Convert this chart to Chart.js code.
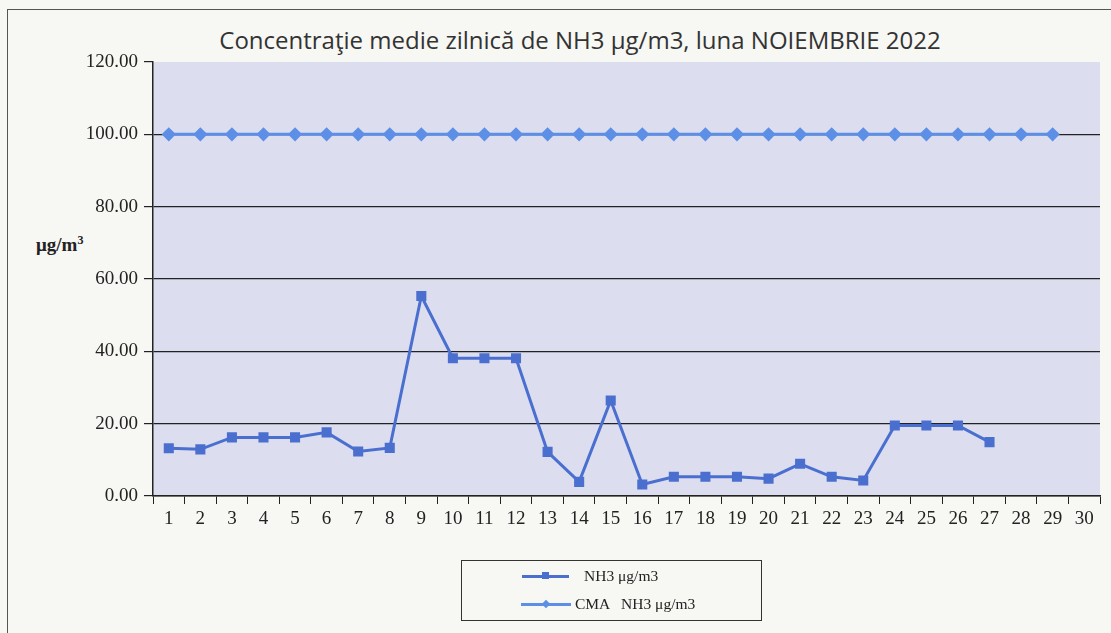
<!DOCTYPE html>
<html>
<head>
<meta charset="utf-8">
<script src="https://cdn.jsdelivr.net/npm/chart.js@4.4.0/dist/chart.umd.min.js"></script>
<style>
  body { margin: 0; background: #f7f7f4; width: 1111px; height: 633px; overflow: hidden; position: relative; }
  #frame { position: absolute; left: 7px; top: 9px; width: 1120px; height: 640px; border: 1.5px solid #555; box-sizing: border-box; }
  #title { position: absolute; left: 180px; width: 800px; top: 23px; text-align: center; font-family: "Open Sans", sans-serif; font-size: 24px; color: #333; }
  #ytitle { position: absolute; left: 36px; top: 233px; font-family: "Liberation Serif", serif; font-weight: bold; font-size: 19px; color: #222; }
  #legend { position: absolute; left: 461px; top: 560px; width: 301px; height: 61px; border: 1.5px solid #333; box-sizing: border-box; font-family: "Liberation Serif", serif; font-size: 15.5px; color: #222; }
  .row { position: absolute; left: 0; height: 20px; }
  .line { position: absolute; height: 2.5px; top: 9px; }
  .mk { position: absolute; }
  .txt { position: absolute; top: 0; white-space: pre; line-height: 20px; }
  canvas { position: absolute; left: 0; top: 0; }
</style>
</head>
<body>
<div id="frame"></div>
<div id="title">Concentraţie medie zilnică de NH3 μg/m3, luna NOIEMBRIE 2022</div>
<div id="ytitle">μg/m<sup style="font-size:12px">3</sup></div>
<canvas id="chart" width="1111" height="633"></canvas>
<div id="legend">
  <div class="row" style="top:5px">
    <div class="line" style="left:60px;width:47px;background:#4a6fcf"></div>
    <div class="mk" style="left:80px;top:6px;width:7px;height:7px;background:#4a6fcf"></div>
    <div class="txt" style="left:122px">NH3 μg/m3</div>
  </div>
  <div class="row" style="top:33px">
    <div class="line" style="left:59px;width:50px;background:#5d8fe6"></div>
    <div class="mk" style="left:81px;top:7px;width:6px;height:6px;background:#5d8fe6;transform:rotate(45deg)"></div>
    <div class="txt" style="left:113px">CMA   NH3 μg/m3</div>
  </div>
</div>
<script>
// Days of November
const days = ["1","2","3","4","5","6","7","8","9","10","11","12","13","14","15",
              "16","17","18","19","20","21","22","23","24","25","26","27","28","29","30"];

// NH3 daily mean concentration (µg/m3)
const nh3Values = [13.2, 12.9, 16.2, 16.2, 16.2, 17.6, 12.3, 13.3, 55.3, 38.1,
                   38.1, 38.1, 12.2, 3.9, 26.4, 3.2, 5.3, 5.3, 5.3, 4.8,
                   8.9, 5.3, 4.3, 19.5, 19.5, 19.5, 14.9, null, null, null];

// CMA limit value (µg/m3)
const cmaValues = [100, 100, 100, 100, 100, 100, 100, 100, 100, 100,
                   100, 100, 100, 100, 100, 100, 100, 100, 100, 100,
                   100, 100, 100, 100, 100, 100, 100, 100, 100, null];

const yTicks = [0, 20, 40, 60, 80, 100, 120];

// plot area background
const plotBg = {
    id: 'plotBg',
    beforeDraw(chart) {
        const a = chart.chartArea;
        const ctx = chart.ctx;
        ctx.save();
        ctx.fillStyle = '#dcdef0';
        ctx.fillRect(a.left, a.top, a.right - a.left, a.bottom - a.top);
        ctx.restore();
    }
};

const ctx = document.getElementById('chart').getContext('2d');
new Chart(ctx, {
    type: 'line',
    data: {
        labels: days,
        datasets: [{
            label: 'NH3 μg/m3',
            data: nh3Values,
            borderColor: '#4a6fcf',
            backgroundColor: '#4a6fcf',
            borderWidth: 3,
            pointStyle: 'rect',
            pointRadius: 5,
            pointHoverRadius: 5,
            spanGaps: false,
            tension: 0
        }, {
            label: 'CMA   NH3 μg/m3',
            data: cmaValues,
            borderColor: '#5d8fe6',
            backgroundColor: '#5d8fe6',
            borderWidth: 3,
            pointStyle: 'rectRot',
            pointRadius: 5,
            pointHoverRadius: 5,
            tension: 0
        }]
    },
    options: {
        responsive: false,
        animation: false,
        layout: { padding: { top: 62, right: 11, left: 0, bottom: 0 } },
        plugins: {
            legend: { display: false },
            title: { display: false },
            tooltip: { enabled: false }
        },
        scales: {
            x: {
                offset: true,
                grid: {
                    offset: true,
                    drawOnChartArea: false,
                    color: '#222',
                    tickColor: '#222',
                    tickLength: 8
                },
                border: { color: '#222', width: 1.5 },
                ticks: {
                    color: '#222',
                    padding: 4,
                    maxRotation: 0,
                    autoSkip: false,
                    font: { family: 'Liberation Serif', size: 19 }
                },
                afterFit(scale) { scale.height = 137; }
            },
            y: {
                min: 0,
                max: 120,
                afterBuildTicks(scale) { scale.ticks = yTicks.map(v => ({ value: v })); },
                grid: {
                    color: c => c.tick && c.tick.value === 120 ? 'rgba(0,0,0,0)' : '#222',
                    tickColor: '#222',
                    lineWidth: 1.2,
                    tickLength: 9
                },
                border: { color: '#222', width: 1.5 },
                ticks: {
                    color: '#222',
                    padding: 6,
                    font: { family: 'Liberation Serif', size: 19 },
                    callback: v => v.toFixed(2)
                },
                afterFit(scale) { scale.width = 153; }
            }
        }
    },
    plugins: [plotBg]
});
</script>
</body>
</html>
